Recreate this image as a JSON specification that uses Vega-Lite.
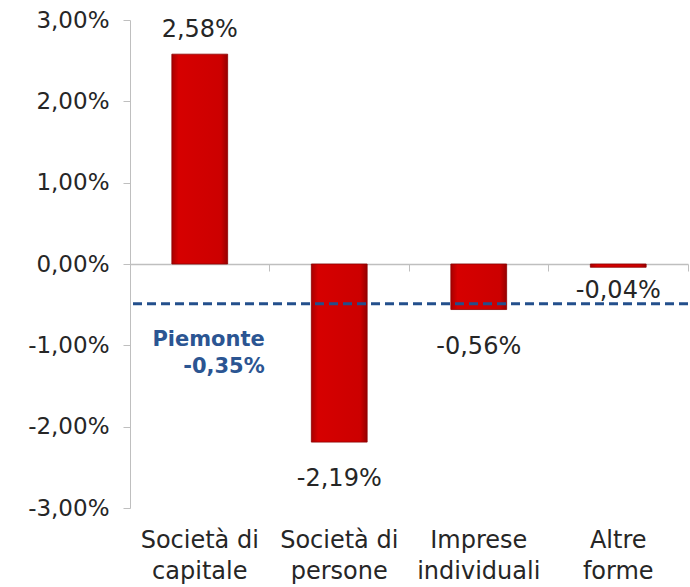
{
  "$schema": "https://vega.github.io/schema/vega-lite/v6.json",
  "width": 558,
  "height": 488,
  "autosize": {"type": "none"},
  "padding": {"left": 130, "top": 20, "right": 2, "bottom": 79},
  "background": "white",
  "config": {
    "view": {"stroke": null},
    "font": "DejaVu Sans",
    "locale": {"number": {"decimal": ",", "thousands": ".", "grouping": [3], "currency": ["", " €"], "minus": "-"}}
  },
  "datasets": {
    "bars": [
      {"categoria": "Società di|capitale", "variazione": 0.0258},
      {"categoria": "Società di|persone", "variazione": -0.0219},
      {"categoria": "Imprese|individuali", "variazione": -0.0056},
      {"categoria": "Altre|forme", "variazione": -0.0004}
    ],
    "ref": [
      {"categoria": "Società di|capitale", "valore": -0.0049, "etichetta": "Piemonte\n-0,35%"}
    ]
  },
  "resolve": {"axis": {"x": "independent"}},
  "layer": [
    {
      "data": {"name": "bars"},
      "mark": {
        "type": "bar",
        "width": {"band": 0.4},
        "fill": {"x1": 0, "x2": 1, "y1": 0, "y2": 0, "gradient": "linear", "stops": [
          {"offset": 0, "color": "#a80000"},
          {"offset": 0.12, "color": "#d60000"},
          {"offset": 0.88, "color": "#cc0000"},
          {"offset": 1, "color": "#960000"}
        ]},
        "stroke": "#8e0000",
        "strokeWidth": 0.8
      },
      "encoding": {
        "x": {
          "field": "categoria", "type": "nominal", "sort": null,
          "scale": {"paddingInner": 0, "paddingOuter": 0},
          "axis": {
            "orient": "bottom",
            "title": null, "domain": false, "ticks": false, "labelAngle": 0,
            "labelExpr": "split(datum.value, '|')",
            "labelFontSize": 24, "labelColor": "#262626", "labelPadding": 20,
            "labelLineHeight": 31, "labelBaseline": "top"
          }
        },
        "y": {
          "field": "variazione", "type": "quantitative",
          "scale": {"domain": [-0.03, 0.03], "nice": false},
          "axis": {
            "title": null, "format": ".2%", "values": [-0.03, -0.02, -0.01, 0, 0.01, 0.02, 0.03],
            "grid": false, "domainColor": "#bfbfbf", "tickColor": "#bfbfbf", "tickSize": 7,
            "labelFontSize": 23, "labelColor": "#262626", "labelPadding": 14
          }
        }
      }
    },
    {
      "data": {"name": "bars"},
      "mark": {"type": "tick", "opacity": 0},
      "encoding": {
        "x": {
          "field": "categoria", "type": "nominal", "sort": null,
          "axis": {
            "orient": "bottom",
            "title": null, "labels": false, "domain": true, "ticks": true,
            "domainColor": "#bfbfbf", "tickColor": "#bfbfbf", "tickSize": 7,
            "bandPosition": 1, "offset": -244, "domainWidth": 1.5
          }
        },
        "y": {"field": "variazione", "type": "quantitative"}
      }
    },
    {
      "data": {"name": "bars"},
      "transform": [{"filter": "datum.variazione >= 0"}],
      "mark": {"type": "text", "baseline": "alphabetic", "dy": -17, "fontSize": 24, "color": "#262626"},
      "encoding": {
        "x": {"field": "categoria", "type": "nominal", "sort": null, "axis": null},
        "y": {"field": "variazione", "type": "quantitative"},
        "text": {"field": "variazione", "type": "quantitative", "format": ".2%"}
      }
    },
    {
      "data": {"name": "bars"},
      "transform": [{"filter": "datum.variazione < -0.001"}],
      "mark": {"type": "text", "baseline": "top", "dy": 25, "fontSize": 24, "color": "#262626"},
      "encoding": {
        "x": {"field": "categoria", "type": "nominal", "sort": null, "axis": null},
        "y": {"field": "variazione", "type": "quantitative"},
        "text": {"field": "variazione", "type": "quantitative", "format": ".2%"}
      }
    },
    {
      "data": {"name": "bars"},
      "transform": [{"filter": "datum.variazione < 0 && datum.variazione >= -0.001"}],
      "mark": {"type": "text", "baseline": "top", "dy": 12, "fontSize": 24, "color": "#262626"},
      "encoding": {
        "x": {"field": "categoria", "type": "nominal", "sort": null, "axis": null},
        "y": {"field": "variazione", "type": "quantitative"},
        "text": {"field": "variazione", "type": "quantitative", "format": ".2%"}
      }
    },
    {
      "data": {"name": "ref"},
      "mark": {"type": "rule", "color": "#234f8c", "strokeWidth": 3, "strokeDash": [9, 5]},
      "encoding": {
        "y": {"field": "valore", "type": "quantitative"}
      }
    },
    {
      "data": {"name": "ref"},
      "mark": {"type": "text", "align": "right", "baseline": "top", "dx": 65, "dy": 25, "fontSize": 21, "fontWeight": "bold", "color": "#2b5592", "lineBreak": "\n", "lineHeight": 27},
      "encoding": {
        "x": {"field": "categoria", "type": "nominal", "sort": null, "axis": null},
        "y": {"field": "valore", "type": "quantitative"},
        "text": {"field": "etichetta"}
      }
    }
  ]
}
